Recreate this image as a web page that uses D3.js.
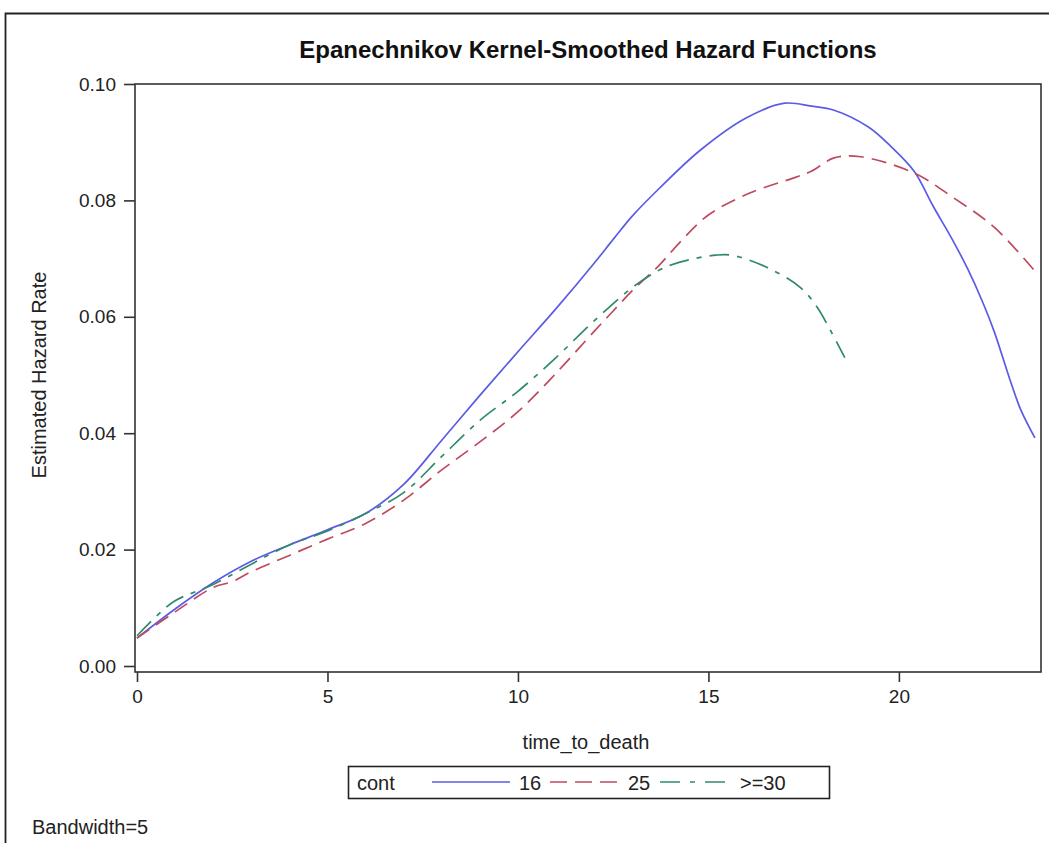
<!DOCTYPE html>
<html><head><meta charset="utf-8">
<script src="https://cdn.jsdelivr.net/npm/d3@7"></script>
<style>body{margin:0;background:#fff;} svg{display:block;font-family:"Liberation Sans",Arial,sans-serif;}</style>
</head><body>
<svg id="chart" width="1049" height="843"></svg>
<script>
const title = "Epanechnikov Kernel-Smoothed Hazard Functions";
const xLabel = "time_to_death";
const yLabel = "Estimated Hazard Rate";
const footnote = "Bandwidth=5";
const legendTitle = "cont";
const seriesNames = ["16", "25", ">=30"];
const xTicks = [0, 5, 10, 15, 20];
const yTicks = [0.00, 0.02, 0.04, 0.06, 0.08, 0.10];

const t16 = [0, 1, 2, 3, 4, 5, 6, 7, 8, 9, 10, 11, 12, 12.5, 13, 13.7, 14.8, 16, 17, 17.7, 18.3, 19.2, 19.8, 20.4, 20.9, 21.4, 21.8, 22.2, 22.5, 22.9, 23.2, 23.57];
const v16 = [0.0048, 0.0098, 0.0143, 0.0180, 0.0208, 0.0234, 0.0262, 0.0312, 0.0388, 0.0465, 0.0540, 0.0614, 0.0692, 0.0733, 0.0773, 0.0820, 0.0887, 0.0942, 0.0967, 0.0962, 0.0955, 0.0926, 0.0892, 0.0850, 0.0790, 0.0733, 0.0683, 0.0625, 0.0575, 0.0495, 0.0440, 0.0392];

const t25 = [0, 1, 2, 2.5, 3, 4, 5, 6, 7, 8, 9, 10, 11, 12, 12.5, 13, 13.7, 14.25, 15, 16.1, 17.3, 17.7, 18.3, 19, 20.4, 21.4, 22.5, 23.55];
const v25 = [0.0048, 0.0093, 0.0135, 0.0145, 0.0162, 0.0190, 0.0218, 0.0245, 0.0285, 0.0337, 0.0385, 0.0437, 0.0503, 0.0575, 0.0610, 0.0645, 0.0688, 0.0728, 0.0775, 0.0813, 0.0840, 0.0850, 0.0873, 0.0875, 0.0847, 0.0806, 0.0754, 0.0680];

const t30 = [0, 0.5, 1, 2, 3, 4, 5, 6, 7, 8, 9, 10, 11, 12, 13, 13.7, 14.25, 15.2, 15.6, 16.5, 17.4, 17.85, 18.2, 18.58];
const v30 = [0.0052, 0.0085, 0.0112, 0.0140, 0.0175, 0.0208, 0.0232, 0.0262, 0.0298, 0.0360, 0.0422, 0.0472, 0.0530, 0.0593, 0.0650, 0.0680, 0.0694, 0.0706, 0.0706, 0.0686, 0.0651, 0.0617, 0.0577, 0.0530];

const colors = ["#5b5be6", "#bf4a5e", "#2f8a6c"];
const dashes = [null, "15,8", "20,8,5,8"];

const svg = d3.select("#chart");
svg.append("path").attr("d", "M5.5,843 V13.5 H1049").attr("fill","none").attr("stroke","#222").attr("stroke-width",1.8);

const L = 135, R = 1041, T = 84, B = 672;
const x = d3.scaleLinear().domain([0, 23.73]).range([137, R]);
const y = d3.scaleLinear().domain([0, 0.10]).range([666, T]);

svg.append("text").attr("x", 588).attr("y", 58).attr("text-anchor","middle")
  .attr("font-size", 24).attr("font-weight","bold").attr("fill","#111").text(title);

svg.append("rect").attr("x", L).attr("y", T).attr("width", R-L).attr("height", B-T)
  .attr("fill","none").attr("stroke","#333").attr("stroke-width",1.6);

const xAxis = svg.append("g").attr("transform", `translate(0,${B})`)
  .call(d3.axisBottom(x).tickValues(xTicks).tickFormat(d3.format("d")).tickSize(10).tickPadding(8));
const yAxis = svg.append("g").attr("transform", `translate(${L},0)`)
  .call(d3.axisLeft(y).tickValues(yTicks).tickFormat(d3.format(".2f")).tickSize(11).tickPadding(8));
[xAxis, yAxis].forEach(g => {
  g.select(".domain").remove();
  g.selectAll("line").attr("stroke","#333").attr("stroke-width",1.6);
  g.selectAll("text").attr("font-size",19).attr("fill","#222").attr("font-family","Liberation Sans, Arial, sans-serif");
});

svg.append("text").attr("x", 586).attr("y", 749).attr("text-anchor","middle")
  .attr("font-size", 20).attr("fill","#222").text(xLabel);
svg.append("text").attr("transform", "translate(46,375) rotate(-90)").attr("text-anchor","middle")
  .attr("font-size", 20).attr("fill","#222").text(yLabel);

const line = d3.line().x(d => x(d[0])).y(d => y(d[1])).curve(d3.curveCatmullRom.alpha(0.5));
const series = [[t16, v16], [t25, v25], [t30, v30]];
svg.append("clipPath").attr("id","pc").append("rect").attr("x",L).attr("y",T).attr("width",R-L).attr("height",B-T);
series.forEach(([ts, vs], i) => {
  const pts = ts.map((t, j) => [t, vs[j]]);
  const p = svg.append("path").datum(pts).attr("d", line).attr("fill","none")
    .attr("stroke", colors[i]).attr("stroke-width", 1.7).attr("clip-path","url(#pc)");
  if (dashes[i]) p.attr("stroke-dasharray", dashes[i]);
});

const lg = svg.append("g");
lg.append("rect").attr("x", 348.5).attr("y", 766.5).attr("width", 481).attr("height", 32)
  .attr("fill","#fff").attr("stroke","#222").attr("stroke-width",1.6);
lg.append("text").attr("x", 357).attr("y", 790).attr("font-size",20).attr("fill","#222").text(legendTitle);
const lx = [432, 550, 660];
const lw = [78, 67, 68];
const tx = [519, 628, 740];
seriesNames.forEach((n, i) => {
  const l = lg.append("line").attr("x1", lx[i]).attr("x2", lx[i] + lw[i]).attr("y1", 782).attr("y2", 782)
    .attr("stroke", colors[i]).attr("stroke-width", 1.7);
  if (dashes[i]) l.attr("stroke-dasharray", i === 1 ? "17,8" : "20,10,5,10");
  lg.append("text").attr("x", tx[i]).attr("y", 790).attr("font-size",20).attr("fill","#222").text(n);
});

svg.append("text").attr("x", 32).attr("y", 834).attr("font-size", 20).attr("fill","#222").text(footnote);
</script>
</body></html>
